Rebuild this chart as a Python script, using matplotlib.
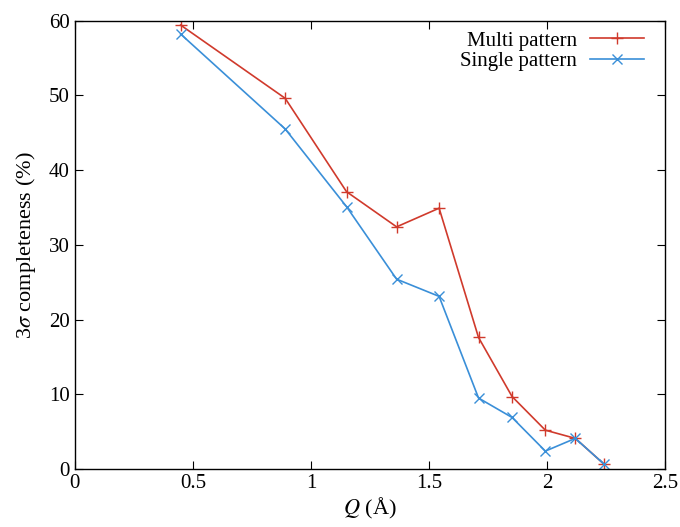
import matplotlib.pyplot as plt

# data
q = [0.448, 0.891, 1.151, 1.363, 1.543, 1.71, 1.852, 1.993, 2.12, 2.24]
multi = [59.4, 49.6, 37.1, 32.4, 34.9, 17.6, 9.7, 5.2, 4.1, 0.7]
single = [58.2, 45.5, 35.1, 25.4, 23.1, 9.5, 6.9, 2.4, 4.1, 0.7]

plt.rcParams['font.family'] = ['Liberation Serif', 'DejaVu Serif']
plt.rcParams['mathtext.fontset'] = 'stix'

fig = plt.figure(figsize=(6.8, 5.27), dpi=100)
ax = fig.add_axes([0.110, 0.110, 0.868, 0.851])

ax.plot(q, multi, color='#d03a2c', marker='+', markersize=8, lw=1.2,
        label='Multi pattern')
ax.plot(q, single, color='#3a8fd8', marker='x', markersize=7, lw=1.2,
        label='Single pattern')

ax.set_xlim(0, 2.5)
ax.set_ylim(0, 60)
ax.set_xticks([0, 0.5, 1, 1.5, 2, 2.5])
ax.set_xticklabels(['0', '0.5', '1', '1.5', '2', '2.5'])
ax.set_yticks(range(0, 61, 10))
ax.tick_params(direction='in', top=True, right=True, labelsize=15, length=6)
for s in ax.spines.values():
    s.set_linewidth(1.0)

ax.set_xlabel(r'$Q$ (Å)', fontsize=16, labelpad=2)
ax.set_ylabel(r'3$\sigma$ completeness (%)', fontsize=16, labelpad=8)

ax.legend(loc='upper right', bbox_to_anchor=(0.982, 1.0), frameon=False,
          markerfirst=False, fontsize=15, handlelength=2.6, borderaxespad=0.1,
          labelspacing=0.05, handletextpad=0.6)

fig.savefig('out.png', dpi=100)
